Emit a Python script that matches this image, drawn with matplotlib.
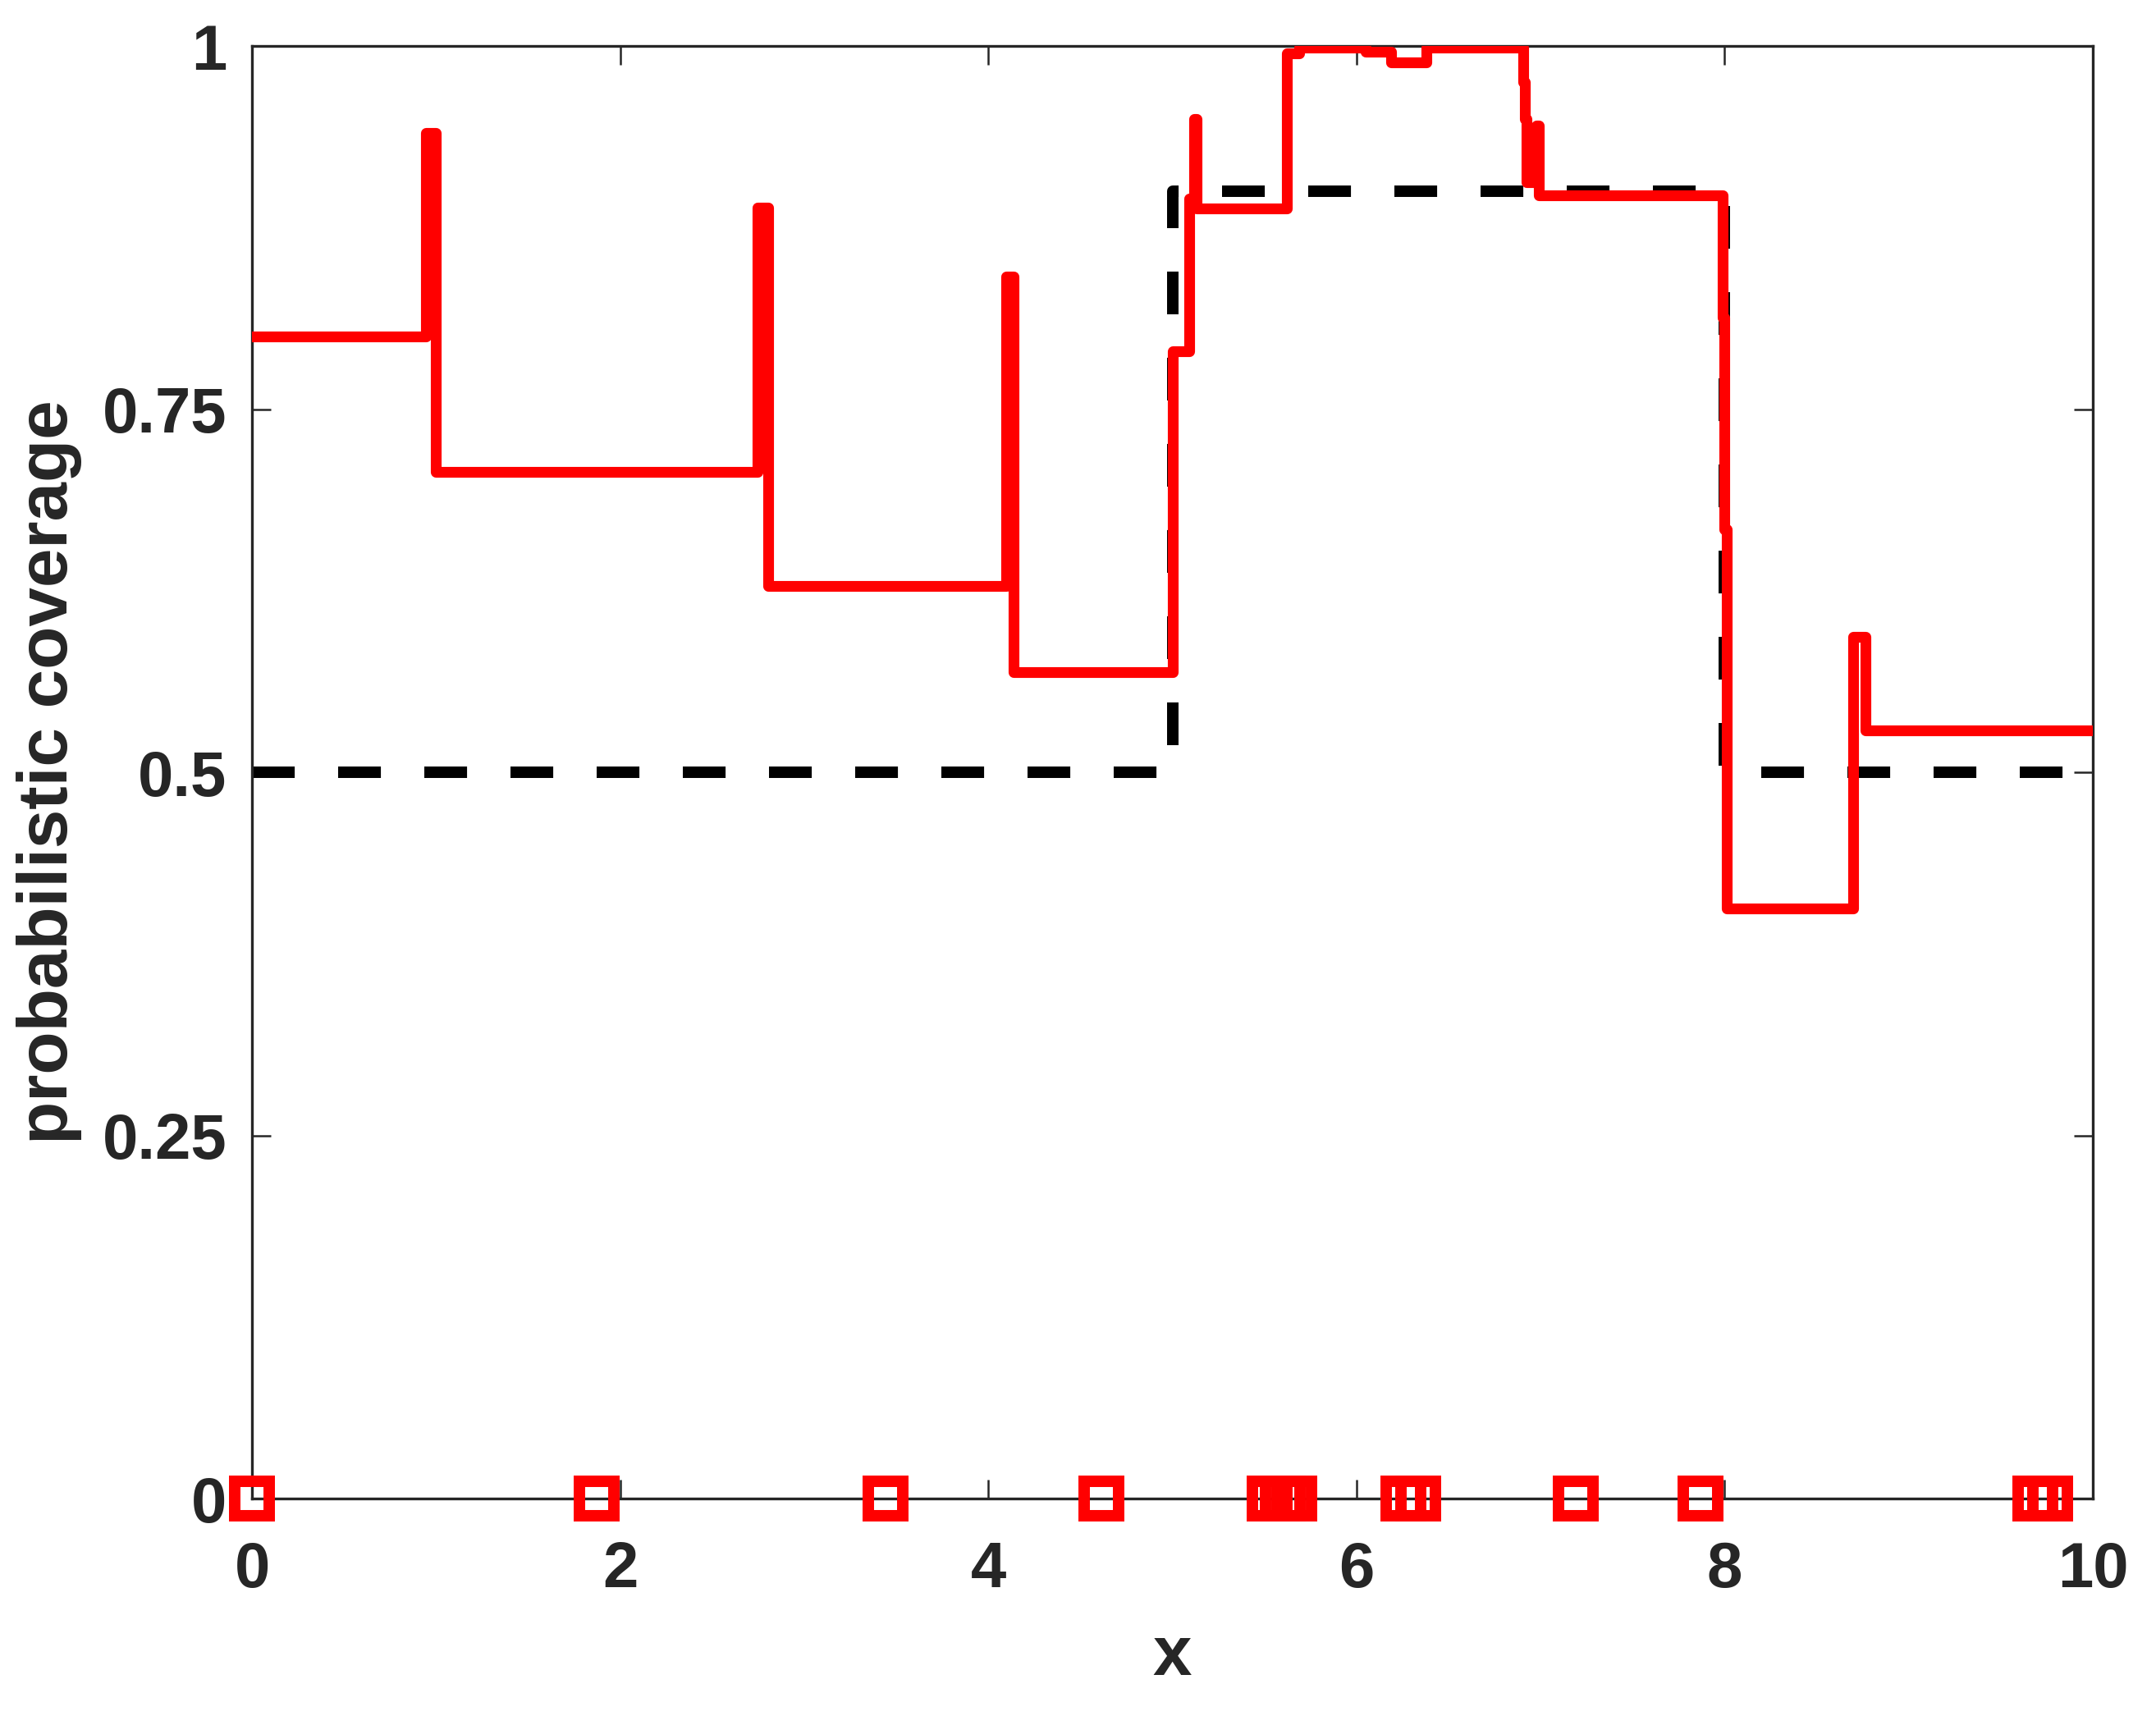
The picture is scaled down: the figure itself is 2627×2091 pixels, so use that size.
import matplotlib
matplotlib.use("Agg")
import matplotlib.pyplot as plt
from matplotlib.markers import MarkerStyle

# red coverage curve, vertices
cov_x = [0.0, 0.946, 0.946, 1.0, 1.0, 2.745, 2.745, 2.805, 2.805,
         4.096, 4.096, 4.138, 4.138, 5.004, 5.004, 5.091, 5.091, 5.12, 5.12,
         5.13, 5.13, 5.62, 5.62, 5.69, 5.69, 6.05, 6.05, 6.19, 6.19,
         6.378, 6.378, 6.905, 6.905, 6.915, 6.915, 6.925, 6.925, 6.975, 6.975,
         6.99, 6.99, 7.99, 7.99, 8.0, 8.0, 8.012, 8.012, 8.70, 8.70,
         8.763, 8.763, 10.0]
cov_y = [0.800, 0.800, 0.940, 0.940, 0.707, 0.707, 0.889, 0.889, 0.628,
         0.628, 0.841, 0.841, 0.569, 0.569, 0.790, 0.790, 0.895, 0.895, 0.950,
         0.950, 0.888, 0.888, 0.995, 0.995, 0.999, 0.999, 0.996, 0.996, 0.989,
         0.989, 0.999, 0.999, 0.975, 0.975, 0.950, 0.950, 0.906, 0.906, 0.945,
         0.945, 0.897, 0.897, 0.813, 0.813, 0.667, 0.667, 0.406, 0.406, 0.593,
         0.593, 0.529, 0.529]

# nominal (target) coverage, dashed black
target_x = [0, 5, 5, 8, 8, 10]
target_y = [0.5, 0.5, 0.9, 0.9, 0.5, 0.5]

# sample locations shown as squares on the x axis
pts_x = [0.0, 1.874, 3.44, 4.614, 5.53, 5.60, 5.66, 6.256, 6.333, 7.19, 7.867, 9.69, 9.77]
pts_y = [0.0] * len(pts_x)

xticks = [0, 2, 4, 6, 8, 10]
yticks = [0, 0.25, 0.5, 0.75, 1]
yticklabels = ['0', '0.25', '0.5', '0.75', '1']

txt = '#262626'
plt.rcParams['font.family'] = ['Liberation Sans', 'DejaVu Sans']
plt.rcParams['font.weight'] = 'bold'

fig = plt.figure(figsize=(2627 / 300, 2091 / 300), dpi=300)
ax = fig.add_axes([0.1169, 0.1267, 0.8538, 0.8465])

lw_black = 3.35
ax.plot(target_x, target_y, color='k', lw=lw_black,
        ls=(0, (12.5 / lw_black, 12.7 / lw_black)),
        dash_capstyle='butt', dash_joinstyle='round', zorder=2)
ax.plot(cov_x, cov_y, color='#ff0000', lw=3.15,
        solid_joinstyle='round', solid_capstyle='round', zorder=3)
ax.plot(pts_x, pts_y, ls='none', marker=MarkerStyle('s', joinstyle='miter'),
        ms=10, mew=3.35, mec='#ff0000', mfc='none', clip_on=False, zorder=5)

ax.set_xlim(0, 10)
ax.set_ylim(0, 1)
ax.set_xticks(xticks)
ax.set_yticks(yticks)
ax.set_yticklabels(yticklabels)

ax.tick_params(direction='in', top=True, right=True, length=5.6, width=0.6,
               colors=txt, labelsize=18.7)
ax.tick_params(axis='x', pad=12.3)
ax.tick_params(axis='y', pad=7.4)
for s in ax.spines.values():
    s.set_linewidth(0.8)
    s.set_color(txt)

ax.set_xlabel('x', fontsize=20.5, fontweight='bold', color=txt, labelpad=7)
ax.set_ylabel('probabilistic coverage', fontsize=20.5, fontweight='bold',
              color=txt, labelpad=6)

fig.savefig('out.png', dpi=300)
